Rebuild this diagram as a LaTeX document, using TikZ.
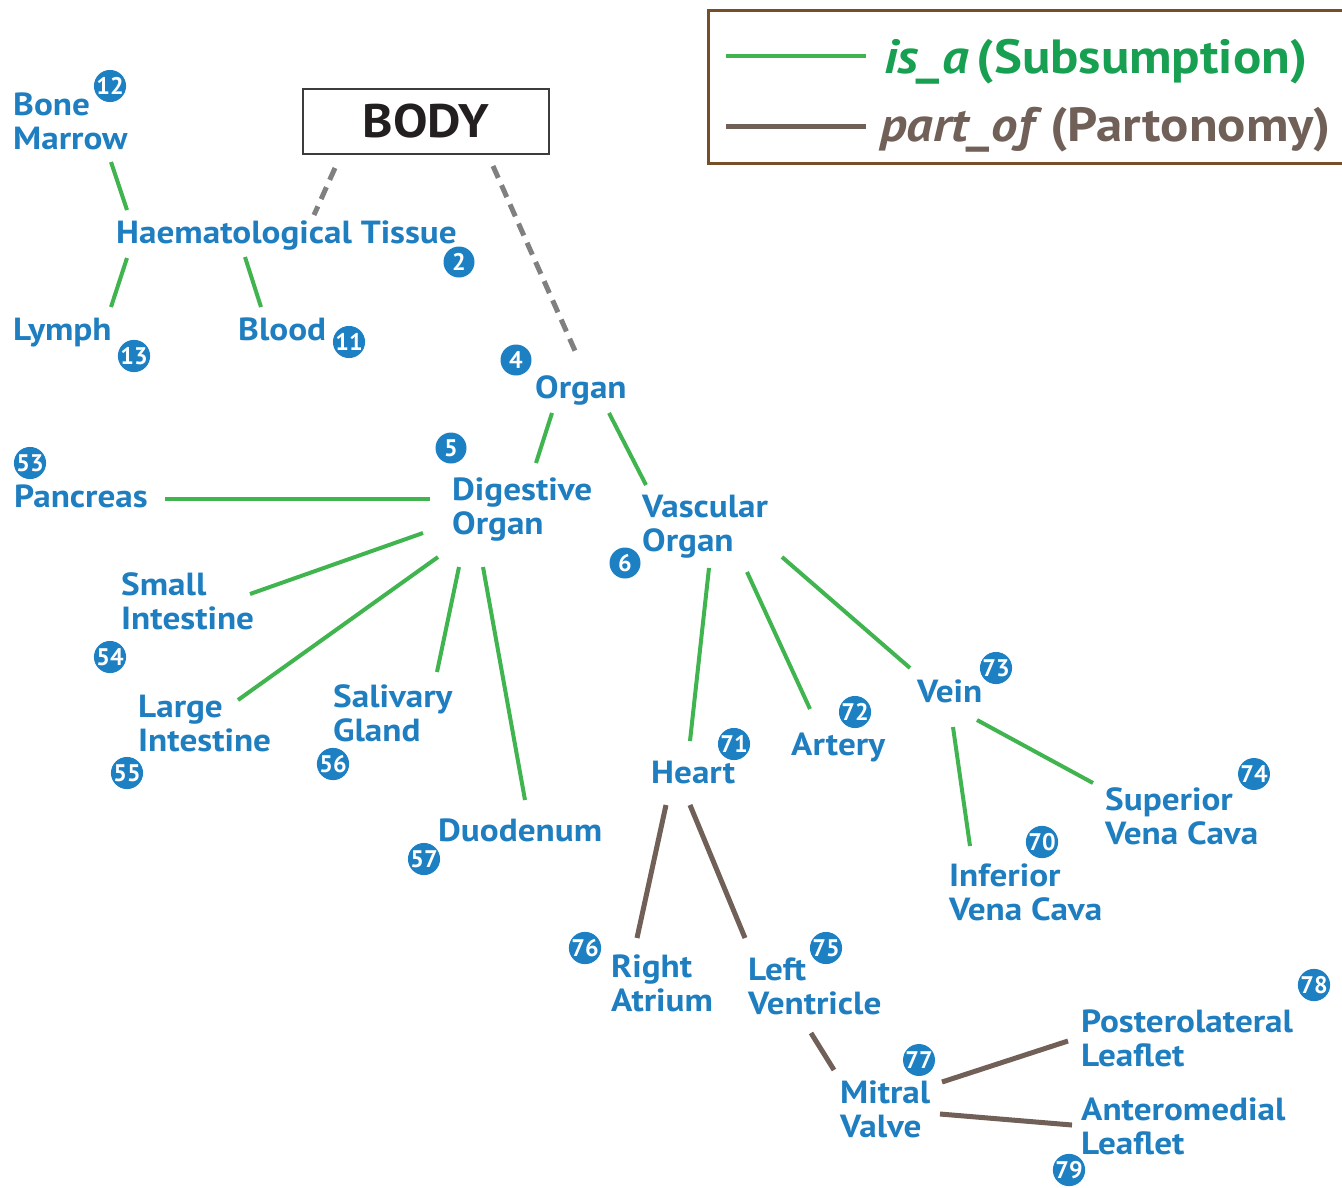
\documentclass[tikz,border=0pt]{standalone}
\usepackage{fontspec}
\setmainfont{PT Sans}
\newfontfamily\widesans{PT Sans}[FakeStretch=1.1]
\usetikzlibrary{calc}

\definecolor{termblue}{RGB}{31,126,192}
\definecolor{badgeblue}{RGB}{28,128,194}
\definecolor{isagreen}{RGB}{64,180,78}
\definecolor{isatext}{RGB}{24,160,82}
\definecolor{partbrown}{RGB}{112,96,88}
\definecolor{legendframe}{RGB}{118,78,40}
\definecolor{bodyframe}{RGB}{60,60,60}
\definecolor{bodytext}{RGB}{35,31,32}
\definecolor{linkgray}{RGB}{128,128,128}

\newcommand{\termfont}{\widesans\fontsize{32}{34.5}\selectfont\bfseries}
\newcommand{\badgefont}{\fontsize{24}{24}\selectfont\bfseries}
% two stacked lines whose reference point is the first baseline
\newcommand{\twolines}[2]{\vtop{\hbox{#1}\hbox{#2}}}

\tikzset{
  term/.style={text=termblue, font=\termfont, inner sep=0pt, anchor=base west},
  badge/.style={circle, fill=badgeblue, text=white, font=\badgefont, inner sep=0pt, minimum size=31pt},
  isa/.style={draw=isagreen, line width=4pt},
  partof/.style={draw=partbrown, line width=5pt},
  bodylink/.style={draw=linkgray, line width=5pt, dash pattern=on 13pt off 8pt},
}

\begin{document}
\begin{tikzpicture}[x=1pt, y=-1pt]
  \useasboundingbox (0,0) rectangle (1342,1187);

  % legend
  \draw[legendframe, line width=3pt] (708,10) rectangle (1360,163);
  \coordinate (isaA) at (726,56);
  \coordinate (isaB) at (866,56);
  \coordinate (partA) at (726,126);
  \coordinate (partB) at (866,126);
  \draw[isa, line width=3.5pt] (isaA) -- (isaB);
  \draw[partof] (partA) -- (partB);
  \node[anchor=base west, inner sep=0pt, text=isatext, font=\widesans\fontsize{48}{48}\selectfont\bfseries]
    (legisa) at (884,73) {\textit{is\_a}\,(Subsumption)};
  \node[anchor=base west, inner sep=0pt, text=partbrown, font=\widesans\fontsize{48}{48}\selectfont\bfseries]
    (legpart) at (880,141) {\textit{part\_of}\,(Partonomy)};

  % root
  \node[draw=bodyframe, line width=2pt, minimum width=246pt, minimum height=65pt, inner sep=0pt,
        text=bodytext, font=\widesans\fontsize{47}{47}\selectfont\bfseries] (body) at (426,121.5) {BODY};

  % terms
  \node[term] (bone) at (13,115) {\twolines{Bone}{Marrow}};
  \node[term] (haem) at (116,243) {Haematological Tissue};
  \node[term] (lymph) at (13,340) {Lymph};
  \node[term] (blood) at (238,340) {Blood};
  \node[term] (organ) at (535,398) {Organ};
  \node[term] (digest) at (452,500) {\twolines{Digestive}{Organ}};
  \node[term] (vasc) at (642,517) {\twolines{Vascular}{Organ}};
  \node[term] (pancreas) at (14,507) {Pancreas};
  \node[term] (small) at (121,595) {\twolines{Small}{Intestine}};
  \node[term] (large) at (138,717) {\twolines{Large}{Intestine}};
  \node[term] (saliv) at (333,707) {\twolines{Salivary}{Gland}};
  \node[term] (duod) at (438,841) {Duodenum};
  \node[term] (heart) at (651,783) {Heart};
  \node[term] (artery) at (791,755) {Artery};
  \node[term] (vein) at (917,702) {Vein};
  \node[term] (superior) at (1105,810) {\twolines{Superior}{Vena Cava}};
  \node[term] (inferior) at (949,886) {\twolines{Inferior}{Vena Cava}};
  \node[term] (ratrium) at (611,977) {\twolines{Right}{Atrium}};
  \node[term] (lventr) at (748,980) {\twolines{Left}{Ventricle}};
  \node[term] (mitral) at (840,1103) {\twolines{Mitral}{Valve}};
  \node[term] (postero) at (1081,1032) {\twolines{Posterolateral}{Leaflet}};
  \node[term] (antero) at (1081,1120) {\twolines{Anteromedial}{Leaflet}};

  % identifier badges
  \node[badge] (n12) at (110,86) {12};
  \node[badge] (n2) at (459,262) {2};
  \node[badge] (n13) at (134,356) {13};
  \node[badge] (n11) at (349,342) {11};
  \node[badge] (n4) at (516,360) {4};
  \node[badge] (n5) at (451,448) {5};
  \node[badge] (n6) at (625,563) {6};
  \node[badge] (n53) at (30,463) {53};
  \node[badge] (n54) at (110,657) {54};
  \node[badge] (n55) at (127,773) {55};
  \node[badge] (n56) at (333,764) {56};
  \node[badge] (n57) at (424,859) {57};
  \node[badge] (n71) at (734,744) {71};
  \node[badge] (n72) at (855,712) {72};
  \node[badge] (n73) at (996,668) {73};
  \node[badge] (n74) at (1254,774) {74};
  \node[badge] (n70) at (1042,842) {70};
  \node[badge] (n76) at (585,948) {76};
  \node[badge] (n75) at (826,948) {75};
  \node[badge] (n77) at (919,1060) {77};
  \node[badge] (n78) at (1314,985) {78};
  \node[badge] (n79) at (1069,1170) {79};

  % part_of links from the root
  \draw[bodylink] ([shift={(-91,13)}]body.south) -- ([shift={(198,-28)}]haem.base west);
  \draw[bodylink] ([shift={(67,11)}]body.south) -- ([shift={(41,-45)}]organ.base west);

  % is_a links
  \draw[isa] ([shift={(98,47)}]bone.base west) -- ([shift={(11,-33)}]haem.base west);
  \draw[isa] ([shift={(11,15)}]haem.base west) -- ([shift={(98,-33)}]lymph.base west);
  \draw[isa] ([shift={(129,14)}]haem.base west) -- ([shift={(23,-33)}]blood.base west);
  \draw[isa] ([shift={(17,15)}]organ.base west) -- ([shift={(84,-37)}]digest.base west);
  \draw[isa] ([shift={(74,15)}]organ.base west) -- ([shift={(4,-32)}]vasc.base west);
  \draw[isa] ([shift={(151,-8)}]pancreas.base west) -- ([shift={(-22,-1)}]digest.base west);
  \draw[isa] ([shift={(-29,33)}]digest.base west) -- ([shift={(129,-1)}]small.base west);
  \draw[isa] ([shift={(-14,57)}]digest.base west) -- ([shift={(100,-17)}]large.base west);
  \draw[isa] ([shift={(7,67)}]digest.base west) -- ([shift={(104,-35)}]saliv.base west);
  \draw[isa] ([shift={(31,67)}]digest.base west) -- ([shift={(87,-41)}]duod.base west);
  \draw[isa] ([shift={(67,51)}]vasc.base west) -- ([shift={(39,-42)}]heart.base west);
  \draw[isa] ([shift={(105,55)}]vasc.base west) -- ([shift={(19,-46)}]artery.base west);
  \draw[isa] ([shift={(140,40)}]vasc.base west) -- ([shift={(-7,-34)}]vein.base west);
  \draw[isa] ([shift={(36,25)}]vein.base west) -- ([shift={(21,-40)}]inferior.base west);
  \draw[isa] ([shift={(60,18)}]vein.base west) -- ([shift={(-12,-27)}]superior.base west);

  % part_of links
  \draw[partof] ([shift={(15,22)}]heart.base west) -- ([shift={(26,-39)}]ratrium.base west);
  \draw[partof] ([shift={(39,22)}]heart.base west) -- ([shift={(-3,-42)}]lventr.base west);
  \draw[partof] ([shift={(63,53)}]lventr.base west) -- ([shift={(-6,-33)}]mitral.base west);
  \draw[partof] ([shift={(102,-21)}]mitral.base west) -- ([shift={(-13,9)}]postero.base west);
  \draw[partof] ([shift={(100,11)}]mitral.base west) -- ([shift={(-9,5)}]antero.base west);
\end{tikzpicture}
\end{document}
